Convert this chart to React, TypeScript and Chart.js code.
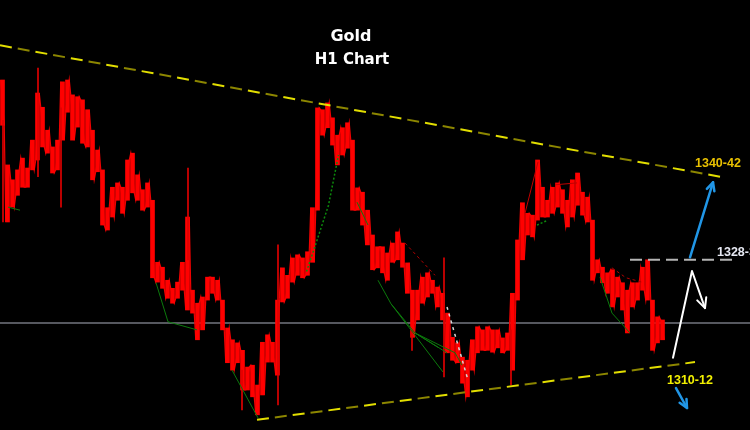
import { useEffect, useRef } from 'react';
import { Chart, registerables } from 'chart.js';

Chart.register(...registerables);

// Gold H1 price bars (one bar every hour index), highs / lows in USD
const BAR_HIGH = [
  1357.1, 1343.4, 1341.0, 1342.6, 1344.5, 1342.9, 1347.4, 1355.0, 1352.7, 1349.0,
  1346.3, 1347.4, 1356.8, 1357.1, 1354.7, 1354.4, 1353.9, 1352.3, 1349.0, 1345.8,
  1342.6, 1336.5, 1339.8, 1340.5, 1339.8, 1344.2, 1345.3, 1341.8, 1339.4, 1340.5,
  1337.7, 1327.7, 1326.9, 1324.8, 1323.5, 1324.5, 1327.7, 1335.0, 1323.2, 1321.1,
  1322.1, 1325.3, 1325.3, 1324.8, 1321.6, 1317.1, 1315.2, 1314.7, 1313.5, 1310.8,
  1311.1, 1307.9, 1314.8, 1316.0, 1314.8, 1321.6, 1326.8, 1325.6, 1328.4, 1328.9,
  1328.4, 1329.4, 1336.5, 1352.6, 1352.3, 1353.4, 1351.0, 1348.2, 1349.4, 1350.2,
  1347.4, 1339.7, 1339.0, 1336.1, 1332.1, 1330.2, 1330.2, 1329.2, 1330.8, 1332.6,
  1330.8, 1327.6, 1323.2, 1323.2, 1325.3, 1326.0, 1324.8, 1323.7, 1322.7, 1319.5,
  1315.6, 1314.7, 1312.4, 1311.9, 1315.2, 1317.3, 1316.8, 1317.3, 1316.8, 1316.8,
  1315.5, 1316.3, 1322.7, 1331.3, 1337.3, 1335.6, 1335.3, 1344.2, 1339.8, 1337.7,
  1339.8, 1340.5, 1339.4, 1337.7, 1341.0, 1342.1, 1339.0, 1338.2, 1334.5, 1328.1,
  1326.9, 1326.0, 1326.5, 1325.3, 1324.4, 1323.2, 1324.4, 1324.4, 1326.9, 1328.1,
  1321.6, 1318.9, 1318.4,
];
const BAR_LOW = [
  1349.8, 1334.2, 1336.6, 1338.5, 1339.8, 1339.8, 1342.6, 1344.2, 1346.3, 1345.3,
  1342.1, 1342.6, 1347.4, 1351.9, 1347.4, 1349.5, 1346.9, 1346.3, 1341.0, 1342.3,
  1333.7, 1332.9, 1335.0, 1337.7, 1335.6, 1337.7, 1338.9, 1337.7, 1336.1, 1336.6,
  1325.2, 1324.5, 1323.5, 1321.9, 1321.1, 1321.9, 1323.2, 1320.0, 1319.5, 1315.2,
  1316.8, 1321.6, 1322.7, 1321.6, 1316.8, 1311.5, 1310.3, 1311.5, 1307.1, 1307.1,
  1306.0, 1303.1, 1306.3, 1311.6, 1311.6, 1309.5, 1321.3, 1321.9, 1324.5, 1325.6,
  1325.2, 1325.6, 1327.7, 1336.1, 1348.2, 1349.4, 1346.6, 1343.4, 1345.0, 1346.1,
  1336.1, 1336.1, 1333.7, 1330.5, 1326.5, 1326.8, 1326.0, 1324.8, 1327.7, 1328.1,
  1326.9, 1322.7, 1315.6, 1318.4, 1321.1, 1322.1, 1322.7, 1320.5, 1318.4, 1313.1,
  1311.9, 1311.5, 1308.2, 1306.0, 1310.3, 1313.1, 1313.5, 1313.5, 1313.2, 1313.9,
  1313.1, 1313.5, 1310.3, 1321.6, 1328.1, 1332.1, 1331.8, 1334.5, 1335.0, 1335.0,
  1335.6, 1336.6, 1335.6, 1333.4, 1335.0, 1336.9, 1335.3, 1334.2, 1324.8, 1326.0,
  1324.4, 1322.7, 1320.5, 1322.1, 1320.0, 1316.3, 1320.5, 1321.6, 1323.2, 1321.6,
  1313.5, 1314.7, 1315.2,
];

// long single-hour wicks
const SPIKE_X = [0.6, 7.6, 12.2, 37.6, 48.4, 55.6, 82.4, 88.8, 102.2];
const SPIKE_HIGH = [1350.6, 1359.0, 1352.6, 1342.9, 1310.3, 1330.5, 1316.8, 1328.4, 1316.8];
const SPIKE_LOW = [1334.2, 1341.5, 1336.6, 1328.1, 1303.9, 1304.7, 1313.5, 1309.2, 1307.9];

// trend lines and levels
const UPPER_TREND = [{ x: 0, y: 1362.7 }, { x: 144, y: 1341.5 }];
const LOWER_TREND = [{ x: 51.4, y: 1302.3 }, { x: 139, y: 1311.6 }];
const PIVOT_LEVEL = 1317.9;
const RESIST_LEVEL = 1328.1;
const RESIST_FROM = 126;
const RESIST_TO = 147;

// indicator swing lines
const GREEN_LINES = [
  [{ x: 1.6, y: 1336.6 }, { x: 4, y: 1336.1 }],
  [{ x: 31.2, y: 1324.4 }, { x: 33.6, y: 1318.1 }, { x: 39.4, y: 1316.8 }],
  [{ x: 46.4, y: 1310.3 }, { x: 51.6, y: 1302.6 }],
  [{ x: 71.4, y: 1337.4 }, { x: 73.6, y: 1333.7 }],
  [{ x: 75.6, y: 1324.8 }, { x: 78.2, y: 1321.0 }, { x: 83, y: 1316.3 }, { x: 91, y: 1313.1 }, { x: 92.4, y: 1311.1 }],
  [{ x: 78.2, y: 1321.0 }, { x: 88.6, y: 1310.0 }],
  [{ x: 83, y: 1316.3 }, { x: 89.4, y: 1313.1 }],
  [{ x: 83, y: 1316.3 }, { x: 87.6, y: 1314.0 }],
  [{ x: 120, y: 1325.3 }, { x: 122.4, y: 1319.5 }, { x: 126, y: 1316.3 }],
];
const GREEN_DOTTED = [
  [{ x: 61.3, y: 1326.2 }, { x: 63.3, y: 1331.0 }, { x: 65.7, y: 1336.9 }, { x: 67.7, y: 1345.0 }],
  [{ x: 107.4, y: 1333.7 }, { x: 109.6, y: 1334.5 }],
];
const RED_DOTTED = [
  [{ x: 81, y: 1330.8 }, { x: 87, y: 1325.6 }],
  [{ x: 122.4, y: 1326.8 }, { x: 125.2, y: 1325.2 }, { x: 128.4, y: 1324.5 }],
];
const RED_THIN = [
  [{ x: 111, y: 1340.2 }, { x: 115.4, y: 1340.5 }],
  [{ x: 105, y: 1335.6 }, { x: 107.6, y: 1343.9 }],
];
const WHITE_DOTTED = [{ x: 89.4, y: 1320.5 }, { x: 93.6, y: 1308.7 }];

// projection arrows
const BLUE_UP = [{ x: 138, y: 1328.5 }, { x: 142.6, y: 1340.6 }];
const BLUE_DOWN = [{ x: 135.2, y: 1307.4 }, { x: 137.4, y: 1304.2 }];
const WHITE_PATH = [{ x: 134.6, y: 1312.3 }, { x: 138.4, y: 1326.3 }, { x: 141, y: 1320.3 }];

const LEVEL_LABELS = [
  { text: '1340-42', x: 139, y: 1343.7, color: '#e8c000' },
  { text: '1328-30', x: 143.4, y: 1329.2, color: '#e6e8f2' },
  { text: '1310-12', x: 133.4, y: 1308.7, color: '#f2f000' },
];
const TITLE = 'Gold';
const SUBTITLE = 'H1 Chart';

function lineDs(data: any[], color: string, width: number, dash: number[] = [], order = 2, dashOffset = 0) {
  return {
    type: 'line' as const,
    data,
    borderColor: color,
    borderWidth: width,
    borderDash: dash,
    borderDashOffset: dashOffset,
    pointRadius: 0,
    tension: 0,
    fill: false,
    order,
  };
}

function arrowHead(ctx: CanvasRenderingContext2D, fx: number, fy: number, tx: number, ty: number, size: number) {
  const a = Math.atan2(ty - fy, tx - fx);
  ctx.beginPath();
  ctx.moveTo(tx - size * Math.cos(a - 0.45), ty - size * Math.sin(a - 0.45));
  ctx.lineTo(tx, ty);
  ctx.lineTo(tx - size * Math.cos(a + 0.45), ty - size * Math.sin(a + 0.45));
  ctx.stroke();
}

const overlay = {
  id: 'overlay',
  afterDraw(chart: any) {
    const { ctx } = chart;
    const xs = chart.scales.x;
    const ys = chart.scales.y;
    const px = (p: { x: number; y: number }) => [xs.getPixelForValue(p.x), ys.getPixelForValue(p.y)];
    ctx.save();
    ctx.lineCap = 'round';
    ctx.lineJoin = 'round';

    ctx.strokeStyle = '#2196e6';
    ctx.lineWidth = 2.5;
    for (const arr of [BLUE_UP, BLUE_DOWN]) {
      const [ax, ay] = px(arr[0]);
      const [bx, by] = px(arr[1]);
      ctx.beginPath();
      ctx.moveTo(ax, ay);
      ctx.lineTo(bx, by);
      ctx.stroke();
      arrowHead(ctx, ax, ay, bx, by, 9);
    }

    ctx.strokeStyle = '#ffffff';
    ctx.lineWidth = 2;
    const pts = WHITE_PATH.map(px);
    ctx.beginPath();
    ctx.moveTo(pts[0][0], pts[0][1]);
    for (let i = 1; i < pts.length; i++) ctx.lineTo(pts[i][0], pts[i][1]);
    ctx.stroke();
    const n = pts.length;
    arrowHead(ctx, pts[n - 2][0], pts[n - 2][1], pts[n - 1][0], pts[n - 1][1], 11);

    ctx.font = 'bold 12.5px "Liberation Sans", Arial, sans-serif';
    ctx.textAlign = 'left';
    ctx.textBaseline = 'middle';
    for (const l of LEVEL_LABELS) {
      const [lx, ly] = px(l);
      ctx.fillStyle = l.color;
      ctx.fillText(l.text, lx, ly);
    }

    ctx.fillStyle = '#ffffff';
    ctx.textAlign = 'center';
    ctx.textBaseline = 'alphabetic';
    ctx.font = 'bold 16px "DejaVu Sans", Verdana, sans-serif';
    ctx.fillText(TITLE, 351, 41);
    ctx.font = 'bold 15px "DejaVu Sans", Verdana, sans-serif';
    ctx.fillText(SUBTITLE, 352, 64);
    ctx.restore();
  },
};

export default function App() {
  const ref = useRef<HTMLCanvasElement | null>(null);
  useEffect(() => {
    if (!ref.current) return;
    const bars = BAR_HIGH.map((h, i) => ({ x: i + 0.5, y: [BAR_LOW[i], h] }));
    const spikes = SPIKE_X.map((x, i) => ({ x, y: [SPIKE_LOW[i], SPIKE_HIGH[i]] }));
    // jagged intrabar path through each bar's high and low
    const zigzag: { x: number; y: number }[] = [];
    BAR_HIGH.forEach((h, i) => {
      if (i % 2 === 0) {
        zigzag.push({ x: i + 0.15, y: h });
        zigzag.push({ x: i + 0.85, y: BAR_LOW[i] });
      } else {
        zigzag.push({ x: i + 0.15, y: BAR_LOW[i] });
        zigzag.push({ x: i + 0.85, y: h });
      }
    });
    const datasets: any[] = [
      lineDs([{ x: 0, y: PIVOT_LEVEL }, { x: 150, y: PIVOT_LEVEL }], '#56585f', 2, [], 20),
      {
        type: 'bar',
        data: bars,
        backgroundColor: '#ff0000',
        borderWidth: 0,
        barThickness: 4,
        grouped: false,
        order: 10,
      },
      lineDs(zigzag, '#f00000', 1.2, [], 11),
      {
        type: 'bar',
        data: spikes,
        backgroundColor: '#e00000',
        borderWidth: 0,
        barThickness: 1,
        grouped: false,
        order: 9,
      },
      lineDs([{ x: RESIST_FROM, y: RESIST_LEVEL }, { x: RESIST_TO, y: RESIST_LEVEL }], '#b4b4b4', 2, [12, 6], 3),
      lineDs(UPPER_TREND, '#e2de00', 2, [12, 24], 3, 0),
      lineDs(UPPER_TREND, '#8c8600', 2, [12, 24], 3, 18),
      lineDs(LOWER_TREND, '#e2de00', 2, [12, 24], 3, 0),
      lineDs(LOWER_TREND, '#8c8600', 2, [12, 24], 3, 18),
      ...GREEN_LINES.map((g) => lineDs(g, '#0c7a0c', 1, [], 4)),
      ...GREEN_DOTTED.map((g) => lineDs(g, '#0c8a0c', 1.5, [2, 2], 4)),
      ...RED_DOTTED.map((g) => lineDs(g, '#b00000', 1, [3, 3], 4)),
      ...RED_THIN.map((g) => lineDs(g, '#c00000', 1, [], 4)),
      lineDs(WHITE_DOTTED, '#d8d8d8', 1.5, [3, 4], 4),
    ];
    const chart = new Chart(ref.current, {
      type: 'bar',
      data: { datasets },
      options: {
        responsive: false,
        animation: false,
        layout: { padding: 0 },
        plugins: { legend: { display: false }, tooltip: { enabled: false }, title: { display: false } },
        scales: {
          x: { type: 'linear', min: 0, max: 150, display: false, offset: false },
          y: { type: 'linear', min: 1300.65, max: 1370, display: false },
        },
      },
      plugins: [overlay],
    } as any);
    return () => chart.destroy();
  }, []);
  return (
    <div style={{ position: 'fixed', left: 0, top: 0, width: 750, height: 430, background: '#000' }}>
      <canvas ref={ref} width={750} height={430} style={{ display: 'block' }} />
    </div>
  );
}
